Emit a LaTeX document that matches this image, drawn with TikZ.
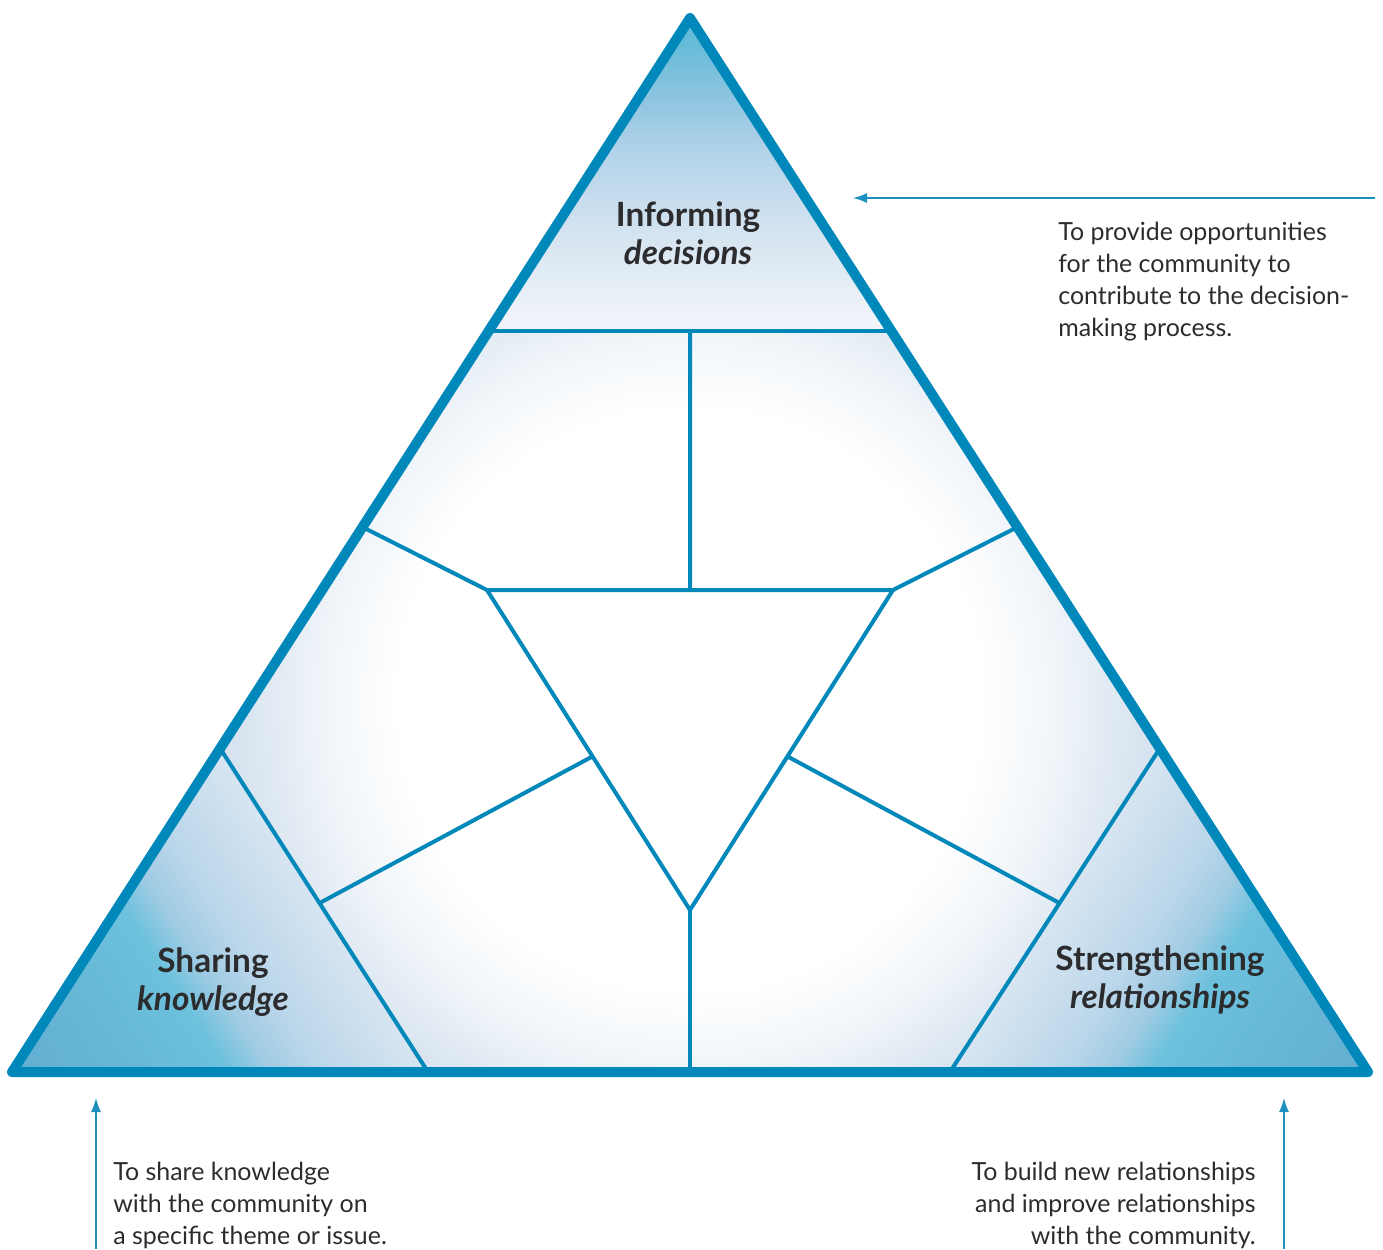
\documentclass[tikz,border=0pt]{standalone}
\usepackage{fontspec}
\setmainfont{Lato}
\usetikzlibrary{arrows.meta,calc}

\definecolor{tblue}{HTML}{0088BB}
\definecolor{tarrow}{HTML}{1E90C0}
\definecolor{tink}{HTML}{2C2C2E}
% middle glow
\definecolor{mida}{HTML}{F2F6FA}
\definecolor{midb}{HTML}{D8E4EF}
\definecolor{midc}{HTML}{CCDDEB}
\definecolor{midd}{HTML}{C4D8EA}
% top corner
\definecolor{topa}{HTML}{5FB9D7}
\definecolor{topb}{HTML}{66BCD9}
\definecolor{topc}{HTML}{8FC5E0}
\definecolor{topd}{HTML}{B0D2E8}
\definecolor{tope}{HTML}{C8DDEE}
\definecolor{topf}{HTML}{DAE7F2}
\definecolor{topg}{HTML}{EDF2F8}
\definecolor{toph}{HTML}{F1F5FA}
% bottom corners
\definecolor{cora}{HTML}{62AED1}
\definecolor{corb}{HTML}{66B4D5}
\definecolor{corc}{HTML}{69BCDA}
\definecolor{cord}{HTML}{6CC1DD}
\definecolor{core}{HTML}{9FCBE3}
\definecolor{corf}{HTML}{BAD6EA}
\definecolor{corg}{HTML}{D7E5F1}

\pgfdeclareradialshading{midglow}{\pgfpoint{0bp}{0bp}}{%
  color(0bp)=(white); color(9.1bp)=(white); color(11.25bp)=(mida);
  color(14.1bp)=(midb); color(17.2bp)=(midc); color(25bp)=(midd); color(50bp)=(midd)}
\pgfdeclarehorizontalshading{topfade}{100bp}{%
  color(0bp)=(topa); color(25bp)=(topa); color(29.3bp)=(topb); color(38bp)=(topc);
  color(46bp)=(topd); color(54bp)=(tope); color(62bp)=(topf); color(71.5bp)=(topg);
  color(75bp)=(toph); color(100bp)=(toph)}
\pgfdeclarehorizontalshading{cornerfade}{100bp}{%
  color(0bp)=(cora); color(25bp)=(cora); color(35bp)=(corb); color(45bp)=(corc);
  color(51bp)=(cord); color(56bp)=(core); color(62bp)=(corf);
  color(75bp)=(corg); color(100bp)=(corg)}

\tikzset{
  rim/.style   = {tblue, line width=0.2cm, line join=round},
  part/.style  = {tblue, line width=0.08cm},
  aim/.style   = {-{Latex[length=0.28cm, width=0.2cm]}, tarrow, line width=0.03cm},
  title/.style = {font=\fontsize{19}{21.6}\selectfont\bfseries, text=tink, align=center},
  note/.style  = {font=\fontsize{14.2}{18.2}\selectfont, text=tink, inner sep=0pt},
}

\begin{document}
\begin{tikzpicture}[x=0.02cm, y=-0.02cm]
\useasboundingbox (0,0) rectangle (1383,1249);
% big triangle
\coordinate (top) at (690,18);
\coordinate (bl) at (12,1072);
\coordinate (br) at (1368,1072);
% points on the sides
\coordinate (tl) at ($(top)!0.297!(bl)$);
\coordinate (tr) at ($(top)!0.297!(br)$);
\coordinate (ml) at ($(top)!0.483!(bl)$);
\coordinate (mr) at ($(top)!0.483!(br)$);
\coordinate (ll) at ($(top)!0.693!(bl)$);
\coordinate (lr) at ($(top)!0.693!(br)$);
\coordinate (bl2) at (428,1072);
\coordinate (br2) at (950,1072);
\coordinate (bm) at (690,1072);
\coordinate (tm) at (690,331);
% inner triangle
\coordinate (ia) at (487,590);
\coordinate (ib) at (893,590);
\coordinate (ic) at (690,910);
\coordinate (ka) at ($(ia)!0.52!(ic)$);
\coordinate (kb) at ($(ll)!0.478!(bl2)$);
\coordinate (sa) at ($(ib)!0.52!(ic)$);
\coordinate (sb) at ($(lr)!0.478!(br2)$);
% fills
\begin{scope}
  \clip (top) -- (bl) -- (br) -- cycle;
  \shade[shading=midglow] (690,700) circle[radius=16cm];
\end{scope}
\begin{scope}
  \clip (top) -- (tl) -- (tr) -- cycle;
  \shade[shading=topfade, transform canvas={shift={(top)}, rotate=-90}]
    (0,-400) rectangle (313,400);
\end{scope}
\begin{scope}
  \clip (bl) -- (ll) -- (bl2) -- cycle;
  \shade[shading=cornerfade, transform canvas={shift={(bl)}, rotate=32.7}]
    (0,-400) rectangle (350,400);
\end{scope}
\begin{scope}
  \clip (br) -- (lr) -- (br2) -- cycle;
  \shade[shading=cornerfade, transform canvas={shift={(br)}, rotate=147.3}]
    (0,-400) rectangle (350,400);
\end{scope}
% partition
\draw[part] (tl) -- (tr);
\draw[part] (tm) -- ($(ia)!0.5!(ib)$);
\draw[part] (ml) -- (ia) -- (ib) -- (mr);
\draw[part] (ia) -- (ic) -- (ib);
\draw[part] (ic) -- (bm);
\draw[part] (ll) -- (bl2);
\draw[part] (lr) -- (br2);
\draw[part] (ka) -- (kb);
\draw[part] (sa) -- (sb);
\draw[rim] (top) -- (bl) -- (br) -- cycle;
% corner titles
\node[title] (inform) at (688,233) {Informing\\\textit{decisions}};
\node[title] (share) at (213,982) {Sharing\\\textit{knowledge}};
\node[title] (bond) at (1160,980) {Strengthening\\\textit{relationships}};
% notes and arrows
\node[note, anchor=north west, align=left] (informtxt) at (1058,222)
  {To provide opportunities\\for the community to\\contribute to the decision-\\making process.};
\node[note, anchor=north west, align=left] (sharetxt) at (113,1162)
  {To share knowledge\\with the community on\\a specific theme or issue.};
\node[note, anchor=north east, align=right] (bondtxt) at (1256,1162)
  {To build new relationships\\and improve relationships\\with the community.};
\coordinate (informtail) at (1375,198);
\coordinate (informtip) at (853,198);
\coordinate (sharetail) at (96,1249);
\coordinate (sharetip) at (96,1098);
\coordinate (bondtail) at (1284,1249);
\coordinate (bondtip) at (1284,1098);
\draw[aim] (informtail) -- (informtip);
\draw[aim] (sharetail) -- (sharetip);
\draw[aim] (bondtail) -- (bondtip);
\end{tikzpicture}
\end{document}
